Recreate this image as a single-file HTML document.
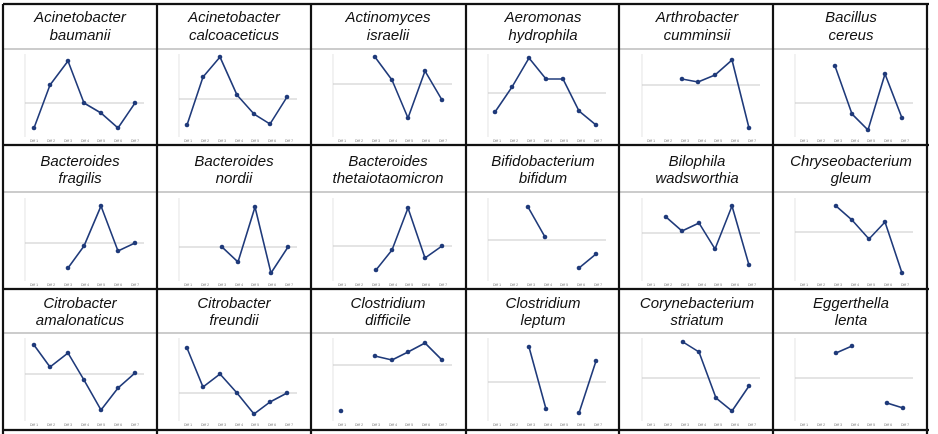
<!DOCTYPE html>
<html><head><meta charset="utf-8"><style>
html,body{margin:0;padding:0;background:#fff;width:938px;height:434px;overflow:hidden}
svg{display:block}
.t{font-family:"Liberation Sans",sans-serif;font-style:italic;font-size:15px;fill:#111;text-anchor:middle}
.d{font-family:"Liberation Sans",sans-serif;font-size:3.5px;fill:#777;text-anchor:middle}
.s{fill:none;stroke:#1f3a7a;stroke-width:1.6;stroke-linejoin:round}
.p{fill:#1f3a7a}
.z{stroke:#c8c8c8;stroke-width:1}
.a{stroke:#ddd;stroke-width:0.8}
.g{stroke:#999;stroke-width:1}
</style></head><body>
<svg width="938" height="434" viewBox="0 0 938 434" xmlns="http://www.w3.org/2000/svg">
<!-- thin title separators -->
<line class="g" x1="3" y1="49" x2="929" y2="49"/>
<line class="g" x1="3" y1="192" x2="929" y2="192"/>
<line class="g" x1="3" y1="333" x2="929" y2="333"/>

<!-- titles row1 -->
<text class="t" x="80" y="22">Acinetobacter</text><text class="t" x="80" y="40">baumanii</text>
<text class="t" x="234" y="22">Acinetobacter</text><text class="t" x="234" y="40">calcoaceticus</text>
<text class="t" x="388" y="22">Actinomyces</text><text class="t" x="388" y="40">israelii</text>
<text class="t" x="543" y="22">Aeromonas</text><text class="t" x="543" y="40">hydrophila</text>
<text class="t" x="697" y="22">Arthrobacter</text><text class="t" x="697" y="40">cumminsii</text>
<text class="t" x="851" y="22">Bacillus</text><text class="t" x="851" y="40">cereus</text>
<!-- row2 -->
<text class="t" x="80" y="166">Bacteroides</text><text class="t" x="80" y="183">fragilis</text>
<text class="t" x="234" y="166">Bacteroides</text><text class="t" x="234" y="183">nordii</text>
<text class="t" x="388" y="166">Bacteroides</text><text class="t" x="388" y="183">thetaiotaomicron</text>
<text class="t" x="543" y="166">Bifidobacterium</text><text class="t" x="543" y="183">bifidum</text>
<text class="t" x="697" y="166">Bilophila</text><text class="t" x="697" y="183">wadsworthia</text>
<text class="t" x="851" y="166">Chryseobacterium</text><text class="t" x="851" y="183">gleum</text>
<!-- row3 -->
<text class="t" x="80" y="308">Citrobacter</text><text class="t" x="80" y="325">amalonaticus</text>
<text class="t" x="234" y="308">Citrobacter</text><text class="t" x="234" y="325">freundii</text>
<text class="t" x="388" y="308">Clostridium</text><text class="t" x="388" y="325">difficile</text>
<text class="t" x="543" y="308">Clostridium</text><text class="t" x="543" y="325">leptum</text>
<text class="t" x="697" y="308">Corynebacterium</text><text class="t" x="697" y="325">striatum</text>
<text class="t" x="851" y="308">Eggerthella</text><text class="t" x="851" y="325">lenta</text>

<!-- axes: y axis lines -->
<g class="a">
<line x1="25" y1="54" x2="25" y2="137"/><line x1="179" y1="54" x2="179" y2="137"/><line x1="333" y1="54" x2="333" y2="137"/><line x1="488" y1="54" x2="488" y2="137"/><line x1="642" y1="54" x2="642" y2="137"/><line x1="795" y1="54" x2="795" y2="137"/>
<line x1="25" y1="198" x2="25" y2="281"/><line x1="179" y1="198" x2="179" y2="281"/><line x1="333" y1="198" x2="333" y2="281"/><line x1="488" y1="198" x2="488" y2="281"/><line x1="642" y1="198" x2="642" y2="281"/><line x1="795" y1="198" x2="795" y2="281"/>
<line x1="25" y1="338" x2="25" y2="421"/><line x1="179" y1="338" x2="179" y2="421"/><line x1="333" y1="338" x2="333" y2="421"/><line x1="488" y1="338" x2="488" y2="421"/><line x1="642" y1="338" x2="642" y2="421"/><line x1="795" y1="338" x2="795" y2="421"/>
</g>
<!-- zero lines -->
<g class="z">
<line x1="25" y1="103" x2="144" y2="103"/><line x1="179" y1="99" x2="297" y2="99"/><line x1="333" y1="84" x2="452" y2="84"/><line x1="488" y1="93" x2="606" y2="93"/><line x1="642" y1="85" x2="760" y2="85"/><line x1="795" y1="103" x2="913" y2="103"/>
<line x1="25" y1="243" x2="144" y2="243"/><line x1="179" y1="247" x2="297" y2="247"/><line x1="333" y1="246" x2="452" y2="246"/><line x1="488" y1="240" x2="606" y2="240"/><line x1="642" y1="233" x2="760" y2="233"/><line x1="795" y1="232" x2="913" y2="232"/>
<line x1="25" y1="374" x2="144" y2="374"/><line x1="179" y1="393" x2="297" y2="393"/><line x1="333" y1="365" x2="452" y2="365"/><line x1="488" y1="382" x2="606" y2="382"/><line x1="642" y1="378" x2="760" y2="378"/><line x1="795" y1="378" x2="913" y2="378"/>
</g>

<!-- x labels -->
<g class="d">
<text x="34" y="142">Diff 1</text><text x="51" y="142">Diff 2</text><text x="68" y="142">Diff 3</text><text x="85" y="142">Diff 4</text><text x="101" y="142">Diff 5</text><text x="118" y="142">Diff 6</text><text x="135" y="142">Diff 7</text>
<text x="188" y="142">Diff 1</text><text x="205" y="142">Diff 2</text><text x="222" y="142">Diff 3</text><text x="239" y="142">Diff 4</text><text x="255" y="142">Diff 5</text><text x="272" y="142">Diff 6</text><text x="289" y="142">Diff 7</text>
<text x="342" y="142">Diff 1</text><text x="359" y="142">Diff 2</text><text x="376" y="142">Diff 3</text><text x="393" y="142">Diff 4</text><text x="409" y="142">Diff 5</text><text x="426" y="142">Diff 6</text><text x="443" y="142">Diff 7</text>
<text x="497" y="142">Diff 1</text><text x="514" y="142">Diff 2</text><text x="531" y="142">Diff 3</text><text x="548" y="142">Diff 4</text><text x="564" y="142">Diff 5</text><text x="581" y="142">Diff 6</text><text x="598" y="142">Diff 7</text>
<text x="651" y="142">Diff 1</text><text x="668" y="142">Diff 2</text><text x="685" y="142">Diff 3</text><text x="702" y="142">Diff 4</text><text x="718" y="142">Diff 5</text><text x="735" y="142">Diff 6</text><text x="752" y="142">Diff 7</text>
<text x="804" y="142">Diff 1</text><text x="821" y="142">Diff 2</text><text x="838" y="142">Diff 3</text><text x="855" y="142">Diff 4</text><text x="871" y="142">Diff 5</text><text x="888" y="142">Diff 6</text><text x="905" y="142">Diff 7</text>
</g>
<g class="d" transform="translate(0,144)">
<text x="34" y="142">Diff 1</text><text x="51" y="142">Diff 2</text><text x="68" y="142">Diff 3</text><text x="85" y="142">Diff 4</text><text x="101" y="142">Diff 5</text><text x="118" y="142">Diff 6</text><text x="135" y="142">Diff 7</text>
<text x="188" y="142">Diff 1</text><text x="205" y="142">Diff 2</text><text x="222" y="142">Diff 3</text><text x="239" y="142">Diff 4</text><text x="255" y="142">Diff 5</text><text x="272" y="142">Diff 6</text><text x="289" y="142">Diff 7</text>
<text x="342" y="142">Diff 1</text><text x="359" y="142">Diff 2</text><text x="376" y="142">Diff 3</text><text x="393" y="142">Diff 4</text><text x="409" y="142">Diff 5</text><text x="426" y="142">Diff 6</text><text x="443" y="142">Diff 7</text>
<text x="497" y="142">Diff 1</text><text x="514" y="142">Diff 2</text><text x="531" y="142">Diff 3</text><text x="548" y="142">Diff 4</text><text x="564" y="142">Diff 5</text><text x="581" y="142">Diff 6</text><text x="598" y="142">Diff 7</text>
<text x="651" y="142">Diff 1</text><text x="668" y="142">Diff 2</text><text x="685" y="142">Diff 3</text><text x="702" y="142">Diff 4</text><text x="718" y="142">Diff 5</text><text x="735" y="142">Diff 6</text><text x="752" y="142">Diff 7</text>
<text x="804" y="142">Diff 1</text><text x="821" y="142">Diff 2</text><text x="838" y="142">Diff 3</text><text x="855" y="142">Diff 4</text><text x="871" y="142">Diff 5</text><text x="888" y="142">Diff 6</text><text x="905" y="142">Diff 7</text>
</g>
<g class="d" transform="translate(0,284)">
<text x="34" y="142">Diff 1</text><text x="51" y="142">Diff 2</text><text x="68" y="142">Diff 3</text><text x="85" y="142">Diff 4</text><text x="101" y="142">Diff 5</text><text x="118" y="142">Diff 6</text><text x="135" y="142">Diff 7</text>
<text x="188" y="142">Diff 1</text><text x="205" y="142">Diff 2</text><text x="222" y="142">Diff 3</text><text x="239" y="142">Diff 4</text><text x="255" y="142">Diff 5</text><text x="272" y="142">Diff 6</text><text x="289" y="142">Diff 7</text>
<text x="342" y="142">Diff 1</text><text x="359" y="142">Diff 2</text><text x="376" y="142">Diff 3</text><text x="393" y="142">Diff 4</text><text x="409" y="142">Diff 5</text><text x="426" y="142">Diff 6</text><text x="443" y="142">Diff 7</text>
<text x="497" y="142">Diff 1</text><text x="514" y="142">Diff 2</text><text x="531" y="142">Diff 3</text><text x="548" y="142">Diff 4</text><text x="564" y="142">Diff 5</text><text x="581" y="142">Diff 6</text><text x="598" y="142">Diff 7</text>
<text x="651" y="142">Diff 1</text><text x="668" y="142">Diff 2</text><text x="685" y="142">Diff 3</text><text x="702" y="142">Diff 4</text><text x="718" y="142">Diff 5</text><text x="735" y="142">Diff 6</text><text x="752" y="142">Diff 7</text>
<text x="804" y="142">Diff 1</text><text x="821" y="142">Diff 2</text><text x="838" y="142">Diff 3</text><text x="855" y="142">Diff 4</text><text x="871" y="142">Diff 5</text><text x="888" y="142">Diff 6</text><text x="905" y="142">Diff 7</text>
</g>

<!-- series -->
<g>
<polyline class="s" points="34,128 50,85 68,61 84,103 101,113 118,128 135,103"/>
<polyline class="s" points="187,125 203,77 220,57 237,95 254,114 270,124 287,97"/>
<polyline class="s" points="375,57 392,80 408,118 425,71 442,100"/>
<polyline class="s" points="495,112 512,87 529,58 546,79 563,79 579,111 596,125"/>
<polyline class="s" points="682,79 698,82 715,75 732,60 749,128"/>
<polyline class="s" points="835,66 852,114 868,130 885,74 902,118"/>
<polyline class="s" points="68,268 84,246 101,206 118,251 135,243"/>
<polyline class="s" points="222,247 238,262 255,207 271,273 288,247"/>
<polyline class="s" points="376,270 392,250 408,208 425,258 442,246"/>
<polyline class="s" points="528,207 545,237"/><polyline class="s" points="579,268 596,254"/>
<polyline class="s" points="666,217 682,231 699,223 715,249 732,206 749,265"/>
<polyline class="s" points="836,206 852,220 869,239 885,222 902,273"/>
<polyline class="s" points="34,345 50,367 68,353 84,380 101,410 118,388 135,373"/>
<polyline class="s" points="187,348 203,387 220,374 237,393 254,414 270,402 287,393"/>
<polyline class="s" points="375,356 392,360 408,352 425,343 442,360"/>
<polyline class="s" points="529,347 546,409"/><polyline class="s" points="579,413 596,361"/>
<polyline class="s" points="683,342 699,352 716,398 732,411 749,386"/>
<polyline class="s" points="836,353 852,346"/><polyline class="s" points="887,403 903,408"/>
</g>
<g class="p">
<circle cx="34" cy="128" r="2.3"/><circle cx="50" cy="85" r="2.3"/><circle cx="68" cy="61" r="2.3"/><circle cx="84" cy="103" r="2.3"/><circle cx="101" cy="113" r="2.3"/><circle cx="118" cy="128" r="2.3"/><circle cx="135" cy="103" r="2.3"/>
<circle cx="187" cy="125" r="2.3"/><circle cx="203" cy="77" r="2.3"/><circle cx="220" cy="57" r="2.3"/><circle cx="237" cy="95" r="2.3"/><circle cx="254" cy="114" r="2.3"/><circle cx="270" cy="124" r="2.3"/><circle cx="287" cy="97" r="2.3"/>
<circle cx="375" cy="57" r="2.3"/><circle cx="392" cy="80" r="2.3"/><circle cx="408" cy="118" r="2.3"/><circle cx="425" cy="71" r="2.3"/><circle cx="442" cy="100" r="2.3"/>
<circle cx="495" cy="112" r="2.3"/><circle cx="512" cy="87" r="2.3"/><circle cx="529" cy="58" r="2.3"/><circle cx="546" cy="79" r="2.3"/><circle cx="563" cy="79" r="2.3"/><circle cx="579" cy="111" r="2.3"/><circle cx="596" cy="125" r="2.3"/>
<circle cx="682" cy="79" r="2.3"/><circle cx="698" cy="82" r="2.3"/><circle cx="715" cy="75" r="2.3"/><circle cx="732" cy="60" r="2.3"/><circle cx="749" cy="128" r="2.3"/>
<circle cx="835" cy="66" r="2.3"/><circle cx="852" cy="114" r="2.3"/><circle cx="868" cy="130" r="2.3"/><circle cx="885" cy="74" r="2.3"/><circle cx="902" cy="118" r="2.3"/>
<circle cx="68" cy="268" r="2.3"/><circle cx="84" cy="246" r="2.3"/><circle cx="101" cy="206" r="2.3"/><circle cx="118" cy="251" r="2.3"/><circle cx="135" cy="243" r="2.3"/>
<circle cx="222" cy="247" r="2.3"/><circle cx="238" cy="262" r="2.3"/><circle cx="255" cy="207" r="2.3"/><circle cx="271" cy="273" r="2.3"/><circle cx="288" cy="247" r="2.3"/>
<circle cx="376" cy="270" r="2.3"/><circle cx="392" cy="250" r="2.3"/><circle cx="408" cy="208" r="2.3"/><circle cx="425" cy="258" r="2.3"/><circle cx="442" cy="246" r="2.3"/>
<circle cx="528" cy="207" r="2.3"/><circle cx="545" cy="237" r="2.3"/><circle cx="579" cy="268" r="2.3"/><circle cx="596" cy="254" r="2.3"/>
<circle cx="666" cy="217" r="2.3"/><circle cx="682" cy="231" r="2.3"/><circle cx="699" cy="223" r="2.3"/><circle cx="715" cy="249" r="2.3"/><circle cx="732" cy="206" r="2.3"/><circle cx="749" cy="265" r="2.3"/>
<circle cx="836" cy="206" r="2.3"/><circle cx="852" cy="220" r="2.3"/><circle cx="869" cy="239" r="2.3"/><circle cx="885" cy="222" r="2.3"/><circle cx="902" cy="273" r="2.3"/>
<circle cx="34" cy="345" r="2.3"/><circle cx="50" cy="367" r="2.3"/><circle cx="68" cy="353" r="2.3"/><circle cx="84" cy="380" r="2.3"/><circle cx="101" cy="410" r="2.3"/><circle cx="118" cy="388" r="2.3"/><circle cx="135" cy="373" r="2.3"/>
<circle cx="187" cy="348" r="2.3"/><circle cx="203" cy="387" r="2.3"/><circle cx="220" cy="374" r="2.3"/><circle cx="237" cy="393" r="2.3"/><circle cx="254" cy="414" r="2.3"/><circle cx="270" cy="402" r="2.3"/><circle cx="287" cy="393" r="2.3"/>
<circle cx="341" cy="411" r="2.3"/><circle cx="375" cy="356" r="2.3"/><circle cx="392" cy="360" r="2.3"/><circle cx="408" cy="352" r="2.3"/><circle cx="425" cy="343" r="2.3"/><circle cx="442" cy="360" r="2.3"/>
<circle cx="529" cy="347" r="2.3"/><circle cx="546" cy="409" r="2.3"/><circle cx="579" cy="413" r="2.3"/><circle cx="596" cy="361" r="2.3"/>
<circle cx="683" cy="342" r="2.3"/><circle cx="699" cy="352" r="2.3"/><circle cx="716" cy="398" r="2.3"/><circle cx="732" cy="411" r="2.3"/><circle cx="749" cy="386" r="2.3"/>
<circle cx="836" cy="353" r="2.3"/><circle cx="852" cy="346" r="2.3"/><circle cx="887" cy="403" r="2.3"/><circle cx="903" cy="408" r="2.3"/>
</g>

<!-- thick grid borders -->
<g stroke="#111" stroke-width="2.2">
<line x1="3" y1="4" x2="929" y2="4"/>
<line x1="3" y1="145" x2="929" y2="145"/>
<line x1="3" y1="289" x2="929" y2="289"/>
<line x1="3" y1="430" x2="929" y2="430"/>
<line x1="3" y1="4" x2="3" y2="434"/>
<line x1="157" y1="4" x2="157" y2="434"/>
<line x1="311" y1="4" x2="311" y2="434"/>
<line x1="466" y1="4" x2="466" y2="434"/>
<line x1="619" y1="4" x2="619" y2="434"/>
<line x1="773" y1="4" x2="773" y2="434"/>
<line x1="927" y1="4" x2="927" y2="434"/>
</g>
</svg>
</body></html>
